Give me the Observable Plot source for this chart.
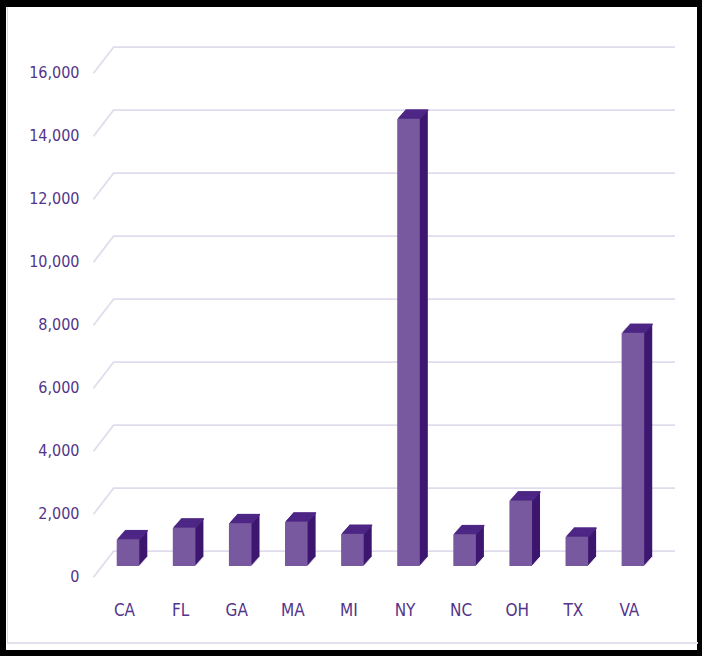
<!DOCTYPE html>
<html><head><meta charset="utf-8">
<script src="https://cdn.jsdelivr.net/npm/d3@7"></script>
<script src="https://cdn.jsdelivr.net/npm/@observablehq/plot@0.6"></script>
<style>
html,body{margin:0;padding:0;background:#000;width:702px;height:656px;overflow:hidden}
#card{position:absolute;left:6px;top:7px;width:691px;height:643px;background:#fff;}
#edge{position:absolute;left:7px;top:7px;width:690px;height:635px;border-left:1px solid #dcd7e6;border-bottom:2px solid #e4e0ec;}
#chart{position:absolute;left:0;top:0}
</style></head><body>
<div id="card"></div><div id="edge"></div><div id="chart"></div>
<script>
// ---- data ----
const states = ["CA", "FL", "GA", "MA", "MI", "NY", "NC", "OH", "TX", "VA"];
const values = [850, 1220, 1360, 1410, 1020, 14200, 1010, 2080, 930, 7400];
const yTicks = [0, 2000, 4000, 6000, 8000, 10000, 12000, 14000, 16000];

const data = states.map((s, i) => ({state: s, i, value: values[i]}));

// ---- layout / style ----
const W = 702, H = 656, ML = 93, MR = 27, MT = 46.7, MB = 105.3;
const xDomain = [-0.624, 9.75], yDomain = [0, 16000];
const kx = (W - ML - MR) / (xDomain[1] - xDomain[0]);
const ky = (H - MT - MB) / (yDomain[1] - yDomain[0]);
const halfBar = 11.3 / kx;
const WALL_DX = 20, WALL_DY = 26;   // px offset of the front edge of the side wall
const BAR_DY = 15.3;                // px, bars' front plane below the back wall
const DEPTH_X = 8, DEPTH_Y = 9, STEPS = 8;

const FRONT = "#78589f", SIDE = "#3d176f", TOP = "#4e2786";
const GRID = "#e0dcee", TEXT = "#52358a";
const FONT = "'Liberation Sans Narrow', 'DejaVu Sans Condensed', 'Roboto', sans-serif";

const steps = d3.range(STEPS, 0, -1);
const barX1 = d => d.i - halfBar, barX2 = d => d.i + halfBar;

const marks = [
  Plot.ruleY(yTicks, {y: d => d, insetLeft: WALL_DX, stroke: GRID, strokeWidth: 1.8}),
  Plot.link(yTicks, {
    x1: xDomain[0], y1: d => d - WALL_DY / ky,
    x2: xDomain[0] + WALL_DX / kx, y2: d => d,
    stroke: GRID, strokeWidth: 1.8
  }),
  ...steps.map(k => Plot.rect(data, {
    x1: barX1, x2: barX2, y1: 0, y2: "value", fill: SIDE,
    dx: k * DEPTH_X / STEPS, dy: BAR_DY - k * DEPTH_Y / STEPS
  })),
  ...steps.map(k => Plot.link(data, {
    x1: barX1, x2: barX2, y1: "value", y2: "value", stroke: TOP, strokeWidth: 1.6,
    dx: k * DEPTH_X / STEPS, dy: BAR_DY - k * DEPTH_Y / STEPS
  })),
  Plot.rect(data, {x1: barX1, x2: barX2, y1: 0, y2: "value", fill: FRONT, dy: BAR_DY}),
  Plot.text(yTicks, {
    x: xDomain[0], y: d => d, text: d => d3.format(",")(d),
    textAnchor: "end", dx: -14, dy: WALL_DY, fill: TEXT, fontSize: 16
  }),
  Plot.text(data, {x: "i", y: 0, text: "state", dx: -4, dy: 59, fill: TEXT, fontSize: 17})
];

const chart = Plot.plot({
  width: W, height: H,
  marginLeft: ML, marginRight: MR, marginTop: MT, marginBottom: MB,
  x: {type: "linear", domain: xDomain, axis: null},
  y: {type: "linear", domain: yDomain, axis: null},
  style: {background: "transparent", fontFamily: FONT, overflow: "visible"},
  marks
});
document.getElementById("chart").appendChild(chart);
</script>
</body></html>
